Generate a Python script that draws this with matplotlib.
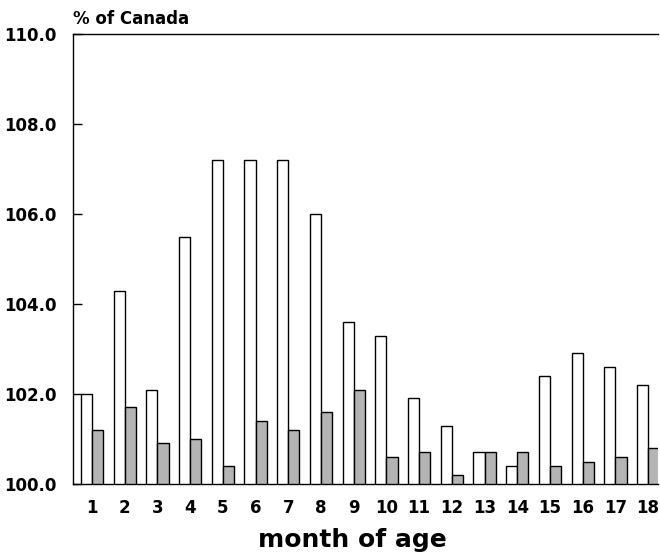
"""
Grouped bar chart: % of Canada by month of age.
"""
import matplotlib
matplotlib.use('Agg')
import matplotlib.pyplot as plt
import numpy as np


# ============================================================
# DATA
# ============================================================
months = list(range(1, 19))
white_vals = [102.0, 104.3, 102.1, 105.5, 107.2, 107.2, 107.2, 106.0, 103.6,
              103.3, 101.9, 101.3, 100.7, 100.4, 102.4, 102.9, 102.6, 102.2]
gray_vals = [101.2, 101.7, 100.9, 101.0, 100.4, 101.4, 101.2, 101.6, 102.1,
             100.6, 100.7, 100.2, 100.7, 100.7, 100.4, 100.5, 100.6, 100.8]
y_ticks = [100.0, 102.0, 104.0, 106.0, 108.0, 110.0]

BASE = 100.0
FONT = 'DejaVu Sans'


# ============================================================
# FIGURE
# ============================================================
W, H = 660, 553
fig = plt.figure(figsize=(W / 100, H / 100), dpi=100, facecolor='white')
ax = fig.add_axes([73 / W, 1 - 484 / H, (658 - 73) / W, (484 - 34) / H])

x = np.array(months, dtype=float)
bw = 0.34
ax.bar(x - bw / 2, np.array(white_vals) - BASE, bw, bottom=BASE,
       facecolor='white', edgecolor='black', linewidth=1.0, zorder=3)
ax.bar(x + bw / 2, np.array(gray_vals) - BASE, bw, bottom=BASE,
       facecolor='#b4b4b4', edgecolor='black', linewidth=1.0, zorder=3)

ax.set_xlim(0.42, 18.3)
ax.set_ylim(100.0, 110.0)

ax.set_yticks(y_ticks)
ax.set_yticklabels([f'{v:.1f}' for v in y_ticks])
ax.set_xticks(x)
ax.set_xticklabels([str(m) for m in months])

ax.tick_params(axis='y', direction='in', length=6.5, width=1.0, pad=11.5,
               labelsize=12)
ax.tick_params(axis='x', length=0, pad=11, labelsize=12)
for lab in ax.get_xticklabels() + ax.get_yticklabels():
    lab.set_fontfamily(FONT)
    lab.set_fontweight('bold')

ax.spines['right'].set_visible(False)
for s in ('left', 'top', 'bottom'):
    ax.spines[s].set_linewidth(1.0)

# ============================================================
# TEXT
# ============================================================
fig.text(73 / W, 1 - 24 / H, '% of Canada', fontsize=12, fontweight='bold',
         fontfamily=FONT, ha='left', va='baseline')
fig.text(352.5 / W, 1 - 547 / H, 'month of age', fontsize=18,
         fontweight='bold', fontfamily=FONT, ha='center', va='baseline')

fig.savefig('out.png', dpi=100, facecolor='white')
plt.close(fig)
